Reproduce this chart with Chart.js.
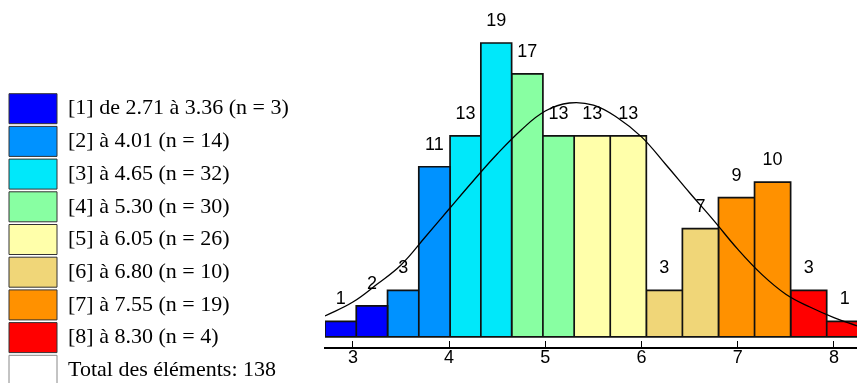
<!DOCTYPE html>
<html lang="fr">
<head>
<meta charset="utf-8">
<title>Histogramme</title>
<script src="https://cdn.jsdelivr.net/npm/chart.js@4.4.1/dist/chart.umd.min.js"></script>
<style>
  html, body { margin: 0; padding: 0; background: #fff; overflow: hidden; }
  #wrap { width: 857px; height: 388px; }
</style>
</head>
<body>
<div id="wrap"><canvas id="histo" width="857" height="388"></canvas></div>
<script>
// Bornes des 8 classes
const bornes = [2.71, 3.36, 4.01, 4.65, 5.30, 6.05, 6.80, 7.55, 8.30];
// Effectifs des demi-classes (gauche / droite)
const effectifsGauche = [1, 3, 13, 17, 13, 3, 9, 3];
const effectifsDroite = [2, 11, 19, 13, 13, 7, 10, 1];
const couleurs = ['#0000FF', '#0092FF', '#00E8FA', '#88FFA2', '#FFFFAA', '#F0D678', '#FF9100', '#FF0000'];
const totalElements = 138;

// Courbe de la loi normale
const courbeX = [2.71, 3.0, 3.25, 3.5, 3.75, 4.0, 4.25, 4.5, 4.75, 5.0, 5.25, 5.5, 5.75,
                 6.0, 6.25, 6.5, 6.75, 7.0, 7.25, 7.5, 7.75, 8.0, 8.24];
const courbeY = [1.35, 2.25, 3.4, 4.65, 6.44, 8.27, 10.08, 11.82, 13.38, 14.6, 15.12, 14.98, 14.17,
                 12.93, 11.16, 9.32, 7.53, 5.67, 4.04, 2.76, 1.93, 1.25, 0.71];

// Graduations de l'axe
const graduations = [3, 4, 5, 6, 7, 8];

const policeChiffres = '"Liberation Sans", Arial, sans-serif';

// Un jeu de données par classe : contour des deux barres
const jeuxClasses = couleurs.map((c, i) => {
    const a = bornes[i], b = bornes[i + 1], m = (a + b) / 2;
    const g = effectifsGauche[i], d = effectifsDroite[i];
    return {
        type: 'line',
        data: [
            {x: a, y: 0}, {x: a, y: g}, {x: m, y: g}, {x: m, y: 0},
            {x: m, y: d}, {x: b, y: d}, {x: b, y: 0}
        ],
        borderColor: '#111',
        borderWidth: 1.7,
        borderJoinStyle: 'miter',
        backgroundColor: c,
        fill: 'origin',
        pointRadius: 0,
        tension: 0,
        order: 3
    };
});

// Ligne de base des barres
const jeuBase = {
    type: 'line',
    data: [{x: bornes[0], y: 0}, {x: bornes[bornes.length - 1], y: 0}],
    borderColor: '#111',
    borderWidth: 1.7,
    pointRadius: 0,
    fill: false,
    order: 2
};

const jeuCourbe = {
    type: 'line',
    data: courbeX.map((x, i) => ({x: x, y: courbeY[i]})),
    borderColor: '#000',
    borderWidth: 1.3,
    pointRadius: 0,
    fill: false,
    tension: 0.4,
    order: 1
};

// Libellés de la légende
const libelles = couleurs.map((c, i) => {
    const n = effectifsGauche[i] + effectifsDroite[i];
    const debut = i === 0 ? 'de ' + bornes[0].toFixed(2) + ' ' : '';
    return '[' + (i + 1) + '] ' + debut + 'à ' + bornes[i + 1].toFixed(2) + ' (n = ' + n + ')';
});

// Effectifs écrits au-dessus des barres
const etiquettes = {
    id: 'etiquettes',
    afterDatasetsDraw(chart) {
        const {ctx, scales: {x, y}} = chart;
        ctx.save();
        ctx.font = '18px ' + policeChiffres;
        ctx.fillStyle = '#000';
        ctx.textAlign = 'center';
        ctx.textBaseline = 'alphabetic';
        bornes.slice(0, -1).forEach((a, i) => {
            const b = bornes[i + 1], m = (a + b) / 2;
            const g = effectifsGauche[i], d = effectifsDroite[i];
            ctx.fillText(String(g), x.getPixelForValue((a + m) / 2), y.getPixelForValue(g) - 17);
            ctx.fillText(String(d), x.getPixelForValue((m + b) / 2), y.getPixelForValue(d) - 17);
        });
        ctx.restore();
    }
};

// La légende occupe toute la marge gauche jusqu'au début de l'axe
const largeurLegende = {
    id: 'largeurLegende',
    afterInit(chart) {
        const legende = chart.legend;
        const fitOrig = legende.fit.bind(legende);
        legende.fit = function () {
            fitOrig();
            this.width = 325 - 6.3;
        };
    }
};

const ctx = document.getElementById('histo').getContext('2d');
new Chart(ctx, {
    data: { datasets: [jeuCourbe, jeuBase, ...jeuxClasses] },
    options: {
        responsive: false,
        animation: false,
        layout: { padding: { left: 6.3, right: 0, top: 0, bottom: 0 } },
        plugins: {
            tooltip: { enabled: false },
            legend: {
                position: 'left',
                align: 'end',
                onClick: null,
                labels: {
                    boxWidth: 48,
                    boxHeight: 30,
                    padding: 2.7,
                    color: '#000',
                    font: { family: '"Liberation Serif", "Times New Roman", serif', size: 22 },
                    generateLabels: () => {
                        const items = libelles.map((t, i) => ({
                            text: t,
                            fillStyle: couleurs[i],
                            strokeStyle: '#333',
                            lineWidth: 1,
                            hidden: false
                        }));
                        items.push({
                            text: 'Total des éléments: ' + totalElements,
                            fillStyle: '#fff',
                            strokeStyle: '#888',
                            lineWidth: 1,
                            hidden: false
                        });
                        return items;
                    }
                }
            }
        },
        scales: {
            x: {
                type: 'linear',
                min: 2.71,
                max: 8.24,
                afterFit: s => { s.height = 40; },
                afterBuildTicks: s => { s.ticks = graduations.map(v => ({value: v})); },
                border: { display: true, color: '#000', width: 2 },
                grid: { display: true, drawOnChartArea: false, drawTicks: true, tickLength: -7, color: '#000', lineWidth: 1 },
                ticks: {
                    color: '#000',
                    padding: 6,
                    maxRotation: 0,
                    autoSkip: false,
                    font: { family: policeChiffres, size: 18 }
                }
            },
            y: {
                type: 'linear',
                display: false,
                min: -0.72,
                max: 21.78
            }
        }
    },
    plugins: [largeurLegende, etiquettes]
});
</script>
</body>
</html>
